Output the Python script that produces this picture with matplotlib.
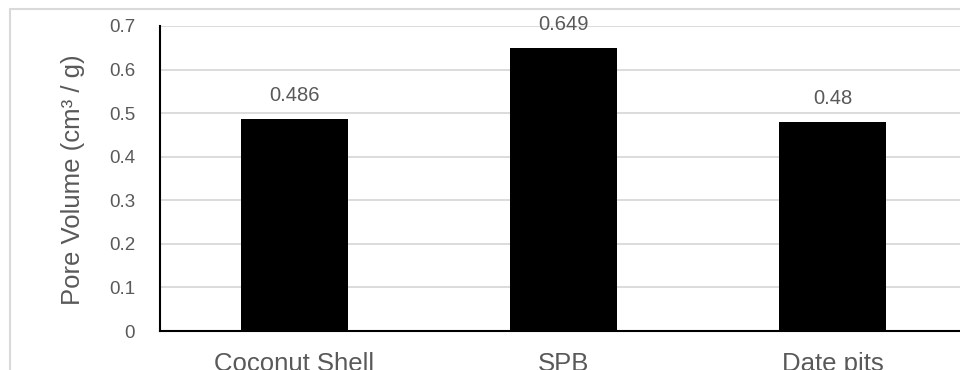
import matplotlib.pyplot as plt
from matplotlib.patches import Rectangle

plt.rcParams['font.family'] = ['Liberation Sans', 'DejaVu Sans']

# ========== Data ==========
categories = ["Coconut Shell", "SPB", "Date pits"]
pore_volume = [0.486, 0.649, 0.48]
value_labels = ["0.486", "0.649", "0.48"]
y_ticks = [0, 0.1, 0.2, 0.3, 0.4, 0.5, 0.6, 0.7]
y_tick_labels = ["0", "0.1", "0.2", "0.3", "0.4", "0.5", "0.6", "0.7"]

TEXT = '#595959'
GRID = '#d9d9d9'

W, H = 960, 370
fig = plt.figure(figsize=(W / 100, H / 100), dpi=100)

# chart frame (runs past the right and bottom edges)
fig.patches.append(Rectangle((10 / W, -0.1), 1.2, 1 - 9 / H + 0.1,
                             transform=fig.transFigure, fill=False,
                             edgecolor=GRID, linewidth=1.5))

# plot area in pixels: x 160..967, y 26..331
ax = fig.add_axes([160 / W, (H - 331) / H, 807 / W, 305 / H])

x = range(len(categories))
ax.bar(x, pore_volume, width=0.4, color='black', zorder=3)
for i, (v, lbl) in enumerate(zip(pore_volume, value_labels)):
    ax.annotate(lbl, (i, v), xytext=(0, 17), textcoords='offset points',
                ha='center', va='center', fontsize=14.5, color=TEXT)

ax.set_xlim(-0.5, 2.5)
ax.set_ylim(0, 0.7)
ax.set_yticks(y_ticks)
ax.set_yticklabels(y_tick_labels)
ax.set_xticks(list(x))
ax.set_xticklabels(categories)
ax.tick_params(axis='y', length=0, pad=18, labelsize=13.5, labelcolor=TEXT)
ax.tick_params(axis='x', length=0, pad=15, labelsize=18.5, labelcolor=TEXT)

ax.grid(axis='y', color=GRID, linewidth=1.3, zorder=0)
ax.set_axisbelow(True)
for side in ['top', 'right']:
    ax.spines[side].set_visible(False)
for side in ['left', 'bottom']:
    ax.spines[side].set_color('black')
    ax.spines[side].set_linewidth(1.5)

ax.set_ylabel("Pore Volume (cm³ / g)", fontsize=18.5, color=TEXT, va='center')
ax.yaxis.set_label_coords(73 / W, (H - 180) / H, transform=fig.transFigure)

plt.savefig('out.png', dpi=100)
plt.close()
